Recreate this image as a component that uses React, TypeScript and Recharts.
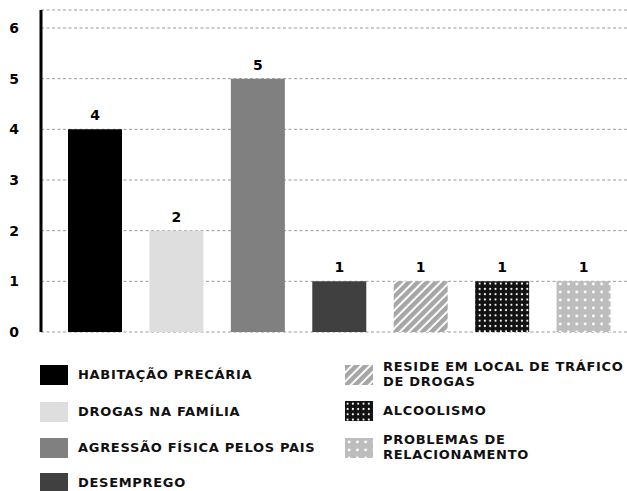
import { BarChart, Bar, XAxis, YAxis, CartesianGrid, LabelList, Cell } from 'recharts';

const categories = [
    'HABITAÇÃO PRECÁRIA',
    'DROGAS NA FAMÍLIA',
    'AGRESSÃO FÍSICA PELOS PAIS',
    'DESEMPREGO',
    'RESIDE EM LOCAL DE TRÁFICO DE DROGAS',
    'ALCOOLISMO',
    'PROBLEMAS DE RELACIONAMENTO',
];
const counts = [4, 2, 5, 1, 1, 1, 1];
const yTicks = [0, 1, 2, 3, 4, 5, 6];
const fills = ['#000000', '#dedede', '#808080', '#404040', 'url(#stripes)', 'url(#dotsDark)', 'url(#dotsLight)'];

const data = categories.map((name, i) => ({ name, value: counts[i] }));

const FONT = '"DejaVu Sans", sans-serif';

function Patterns({ prefix = '' }: { prefix?: string }) {
    return (
        <defs>
            <pattern id={prefix + 'stripes'} width="6.4" height="6.4" patternUnits="userSpaceOnUse" patternTransform="rotate(45)">
                <rect width="6.4" height="6.4" fill="#ffffff" />
                <rect width="4.4" height="6.4" fill="#a6a6a6" />
            </pattern>
            <pattern id={prefix + 'dotsDark'} width="5.3" height="5.3" patternUnits="userSpaceOnUse">
                <rect width="5.3" height="5.3" fill="#111111" />
                <circle cx="2.6" cy="2.6" r="1.05" fill="#ffffff" />
            </pattern>
            <pattern id={prefix + 'dotsLight'} width="8.3" height="8" patternUnits="userSpaceOnUse">
                <rect width="8.3" height="8" fill="#bdbdbd" />
                <circle cx="4.1" cy="4" r="1.4" fill="#ffffff" />
            </pattern>
        </defs>
    );
}

function Swatch({ fill, id }: { fill: string; id: string }) {
    const f = fill.startsWith('url(') ? fill.replace('url(#', 'url(#' + id) : fill;
    return (
        <svg width={28} height={20} style={{ flexShrink: 0, display: 'block' }}>
            <Patterns prefix={id} />
            <rect width={28} height={20} fill={f} />
        </svg>
    );
}

function LegendItem({ index, lines, top, left }: { index: number; lines: string[]; top: number; left: number }) {
    return (
        <div style={{ position: 'absolute', top, left, display: 'flex', alignItems: 'center', gap: 10 }}>
            <Swatch fill={fills[index]} id={'lg' + index} />
            <div style={{ fontFamily: FONT, fontWeight: 700, fontSize: 13, lineHeight: '14.5px', letterSpacing: 0.7, color: '#111', whiteSpace: 'nowrap' }}>
                {lines.map((l) => (
                    <div key={l}>{l}</div>
                ))}
            </div>
        </div>
    );
}

export default function App() {
    return (
        <div style={{ position: 'absolute', left: 0, top: 0, width: 627, height: 491, background: '#fff', overflow: 'hidden' }}>
            <BarChart width={627} height={345} data={data} margin={{ top: 10, right: 0, bottom: 13, left: 0 }}>
                <Patterns />
                <CartesianGrid vertical={false} stroke="#9a9a9a" strokeDasharray="3 2.5" />
                <XAxis
                    dataKey="name"
                    tick={false}
                    tickLine={false}
                    height={0}
                    axisLine={{ stroke: '#000', strokeWidth: 3 }}
                    padding={{ left: 13, right: 3 }}
                />
                <YAxis
                    width={41}
                    domain={[0, 6]}
                    ticks={yTicks}
                    interval={0}
                    tickLine={false}
                    axisLine={{ stroke: '#000', strokeWidth: 3 }}
                    padding={{ top: 18 }}
                    tick={{ fill: '#000', fontSize: 14, fontFamily: FONT, fontWeight: 700 }}
                    dx={-14}
                />
                <Bar dataKey="value" barSize={54} isAnimationActive={false}>
                    {data.map((d, i) => (
                        <Cell key={d.name} fill={fills[i]} />
                    ))}
                    <LabelList
                        dataKey="value"
                        position="top"
                        offset={9}
                        style={{ fill: '#000', fontSize: 14, fontFamily: FONT, fontWeight: 700 }}
                    />
                </Bar>
            </BarChart>
            <LegendItem index={0} lines={['HABITAÇÃO PRECÁRIA']} top={365} left={40} />
            <LegendItem index={1} lines={['DROGAS NA FAMÍLIA']} top={402} left={40} />
            <LegendItem index={2} lines={['AGRESSÃO FÍSICA PELOS PAIS']} top={438} left={40} />
            <LegendItem index={3} lines={['DESEMPREGO']} top={473} left={40} />
            <LegendItem index={4} lines={['RESIDE EM LOCAL DE TRÁFICO', 'DE DROGAS']} top={360} left={345} />
            <LegendItem index={5} lines={['ALCOOLISMO']} top={401} left={345} />
            <LegendItem index={6} lines={['PROBLEMAS DE', 'RELACIONAMENTO']} top={433} left={345} />
        </div>
    );
}
